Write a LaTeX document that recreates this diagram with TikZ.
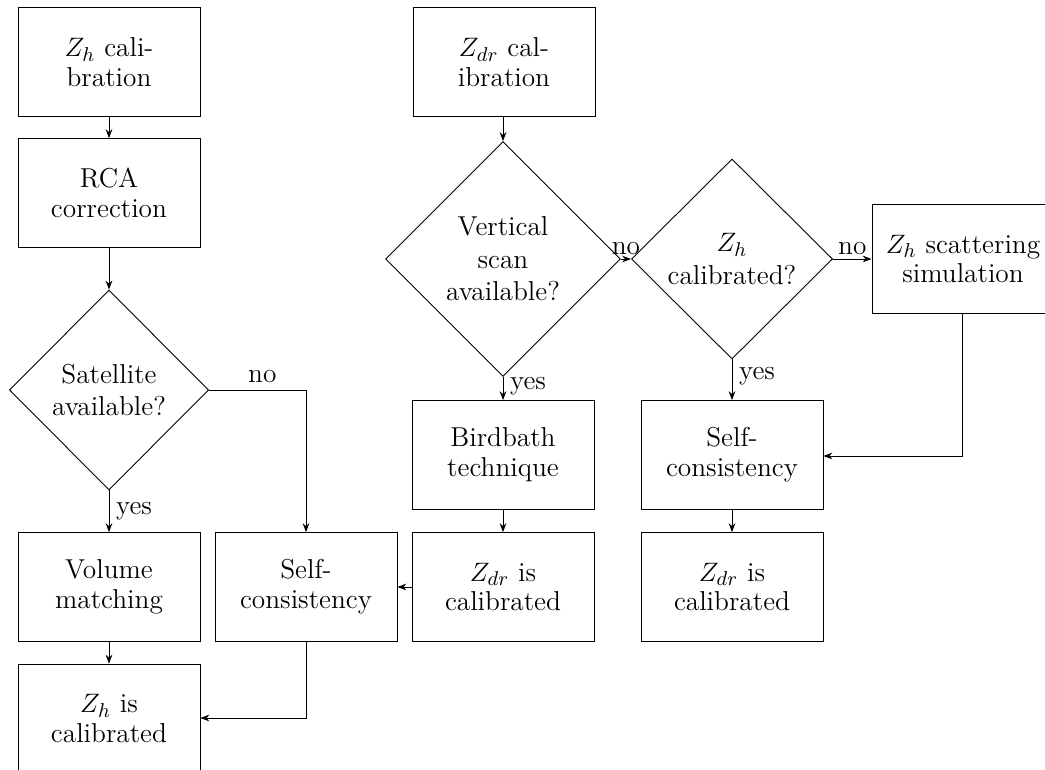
\documentclass[tikz,border=0pt]{standalone}
\usetikzlibrary{shapes.geometric,arrows.meta}
\begin{document}
\begin{tikzpicture}[x=0.45pt,y=-0.45pt,
  every node/.style={font=\fontsize{12.3}{13.4}\selectfont},
  box/.style={draw,rectangle,align=center,minimum width=81.9pt,minimum height=49pt,inner sep=1pt},
  dec/.style={draw,diamond,aspect=1,align=center,inner sep=0pt,font=\fontsize{12.3}{14.6}\selectfont},
  arr/.style={-{Stealth[length=4pt,width=3pt]}},
  lbl/.style={inner sep=3pt}]
\useasboundingbox (0,0) rectangle (1045,770);
% left column
\node[box] (zhcal) at (109,62) {$Z_h$ cali-\\bration};
\node[box] (rca) at (109,193) {RCA\\correction};
\node[dec,minimum width=89.6pt,minimum height=90pt] (sat) at (109,390) {Satellite\\available?};
\node[box] (vol) at (109,587) {Volume\\matching};
\node[box] (zhis) at (109,718.5) {$Z_h$ is\\calibrated};
\node[box] (sc1) at (306,587) {Self-\\consistency};
% middle column
\node[box] (zdrcal) at (504,62) {$Z_{dr}$ cal-\\ibration};
\node[dec,minimum width=105.75pt,minimum height=105.75pt] (vert) at (503,259) {Vertical\\scan\\available?};
\node[box] (bird) at (503,455) {Birdbath\\technique};
\node[box] (zdris1) at (503,587) {$Z_{dr}$ is\\calibrated};
% right column
\node[dec,minimum width=90.5pt,minimum height=90pt] (zhq) at (732,259) {$Z_h$\\calibrated?};
\node[box] (sc2) at (732,455) {Self-\\consistency};
\node[box] (zdris2) at (732,587) {$Z_{dr}$ is\\calibrated};
\node[box] (scat) at (963,259) {$Z_h$ scattering\\simulation};
% coordinates
\coordinate (c1) at (306,390);
\coordinate (c2) at (306,718);
\coordinate (c3) at (962,456);
% connectors
\draw[arr] (zhcal) -- (rca);
\draw[arr] (rca) -- (sat);
\draw[arr] (sat.south) -- node[lbl,anchor=west,pos=0.5]{yes} (vol.north);
\draw[arr] (sat.east) -- node[lbl,anchor=south,pos=0.55]{no} (c1) -- (sc1.north);
\draw[arr] (vol) -- (zhis);
\draw[arr] (sc1.south) -- (c2) -- (zhis.east |- c2);
\draw[arr] (zdrcal.south -| vert.north) -- (vert);
\draw[arr] (vert.south) -- node[lbl,anchor=west,pos=0.4]{yes} (bird.north);
\draw[arr] (vert.east) -- node[lbl,anchor=south,pos=0.5,inner sep=1.5pt]{no} (zhq.west);
\draw[arr] (zhq.east) -- node[lbl,anchor=south,pos=0.5,inner sep=1.5pt]{no} (scat.west);
\draw[arr] (zhq.south) -- node[lbl,anchor=west,pos=0.4]{yes} (sc2.north);
\draw[arr] (bird) -- (zdris1);
\draw[arr] (zdris1) -- (sc1);
\draw[arr] (sc2) -- (zdris2);
\draw[arr] (scat.south -| c3) -- (c3) -- (sc2.east |- c3);
\end{tikzpicture}
\end{document}
